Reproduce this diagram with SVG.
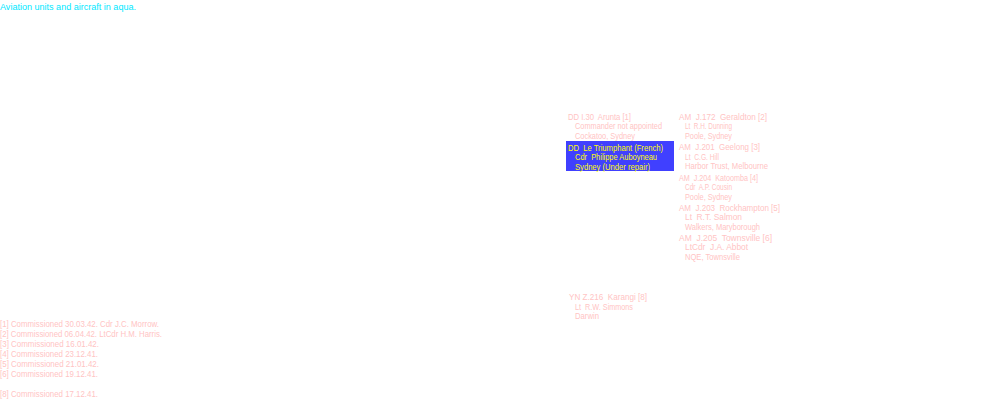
<svg xmlns="http://www.w3.org/2000/svg" width="1000" height="400" viewBox="0 0 1000 400">
<style>
text{font-family:"Liberation Sans",Arial,sans-serif;font-size:9.5px;white-space:pre}
.p{fill:#ffc4c4}
.a{fill:#00e8ff}
.y{fill:#ffff00}
.box{fill:#4040ff}
</style>
<rect width="1000" height="400" fill="#ffffff"/>
<text class="a" x="0" y="10" textLength="136" lengthAdjust="spacingAndGlyphs">Aviation units and aircraft in aqua.</text>
<g id="connectors"/>
<g id="arunta">
<text class="p" x="568" y="119.5" textLength="63" lengthAdjust="spacingAndGlyphs">DD I.30  Arunta [1]</text>
<text class="p" x="575" y="129" textLength="87" lengthAdjust="spacingAndGlyphs">Commander not appointed</text>
<text class="p" x="575" y="138.5" textLength="60" lengthAdjust="spacingAndGlyphs">Cockatoo, Sydney</text>
</g>
<g id="triumphant">
<rect class="box" x="566" y="141" width="108" height="30"/>
<text class="y" x="568" y="150.5" textLength="95" lengthAdjust="spacingAndGlyphs">DD  Le Triumphant (French)</text>
<text class="y" x="575" y="160" textLength="82" lengthAdjust="spacingAndGlyphs">Cdr  Philippe Auboyneau</text>
<text class="y" x="575" y="169.5" textLength="75" lengthAdjust="spacingAndGlyphs">Sydney (Under repair)</text>
</g>
<g id="geraldton">
<text class="p" x="679" y="119.5" textLength="88" lengthAdjust="spacingAndGlyphs">AM  J.172  Geraldton [2]</text>
<text class="p" x="685" y="129" textLength="47" lengthAdjust="spacingAndGlyphs">Lt  R.H. Dunning</text>
<text class="p" x="685" y="138.5" textLength="47" lengthAdjust="spacingAndGlyphs">Poole, Sydney</text>
</g>
<g id="geelong">
<text class="p" x="679" y="150" textLength="81" lengthAdjust="spacingAndGlyphs">AM  J.201  Geelong [3]</text>
<text class="p" x="685" y="159.5" textLength="34" lengthAdjust="spacingAndGlyphs">Lt  C.G. Hill</text>
<text class="p" x="685" y="169" textLength="83" lengthAdjust="spacingAndGlyphs">Harbor Trust, Melbourne</text>
</g>
<g id="katoomba">
<text class="p" x="679" y="180.5" textLength="79" lengthAdjust="spacingAndGlyphs">AM  J.204  Katoomba [4]</text>
<text class="p" x="685" y="190" textLength="47" lengthAdjust="spacingAndGlyphs">Cdr  A.P. Cousin</text>
<text class="p" x="685" y="199.5" textLength="47" lengthAdjust="spacingAndGlyphs">Poole, Sydney</text>
</g>
<g id="rockhampton">
<text class="p" x="679" y="210.5" textLength="101" lengthAdjust="spacingAndGlyphs">AM  J.203  Rockhampton [5]</text>
<text class="p" x="685" y="220" textLength="57" lengthAdjust="spacingAndGlyphs">Lt  R.T. Salmon</text>
<text class="p" x="685" y="229.5" textLength="75" lengthAdjust="spacingAndGlyphs">Walkers, Maryborough</text>
</g>
<g id="townsville">
<text class="p" x="679" y="240.5" textLength="93" lengthAdjust="spacingAndGlyphs">AM  J.205  Townsville [6]</text>
<text class="p" x="685" y="250" textLength="63" lengthAdjust="spacingAndGlyphs">LtCdr  J.A. Abbot</text>
<text class="p" x="685" y="259.5" textLength="55" lengthAdjust="spacingAndGlyphs">NQE, Townsville</text>
</g>
<g id="karangi">
<text class="p" x="569" y="300" textLength="78" lengthAdjust="spacingAndGlyphs">YN Z.216  Karangi [8]</text>
<text class="p" x="575" y="309.5" textLength="58" lengthAdjust="spacingAndGlyphs">Lt  R.W. Simmons</text>
<text class="p" x="575" y="319" textLength="24" lengthAdjust="spacingAndGlyphs">Darwin</text>
</g>
<g id="footnotes">
<text class="p" x="0" y="327" textLength="159" lengthAdjust="spacingAndGlyphs">[1] Commissioned 30.03.42. Cdr J.C. Morrow.</text>
<text class="p" x="0" y="337" textLength="162" lengthAdjust="spacingAndGlyphs">[2] Commissioned 06.04.42. LtCdr H.M. Harris.</text>
<text class="p" x="0" y="347" textLength="99" lengthAdjust="spacingAndGlyphs">[3] Commissioned 16.01.42.</text>
<text class="p" x="0" y="357" textLength="98" lengthAdjust="spacingAndGlyphs">[4] Commissioned 23.12.41.</text>
<text class="p" x="0" y="367" textLength="99" lengthAdjust="spacingAndGlyphs">[5] Commissioned 21.01.42.</text>
<text class="p" x="0" y="377" textLength="98" lengthAdjust="spacingAndGlyphs">[6] Commissioned 19.12.41.</text>
<text class="p" x="0" y="397" textLength="98" lengthAdjust="spacingAndGlyphs">[8] Commissioned 17.12.41.</text>
</g>
</svg>
